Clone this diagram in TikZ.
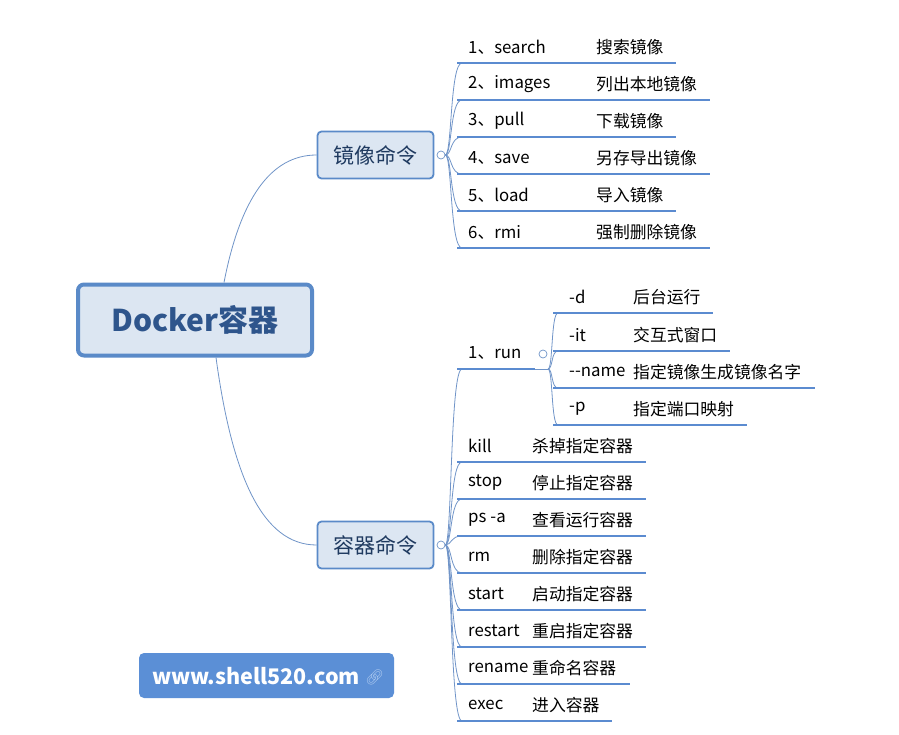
\documentclass[tikz,border=0pt]{standalone}
\usepackage{fontspec}
\setmainfont{Noto Sans CJK SC}
\newfontfamily\emo{Noto Emoji}
\definecolor{bfill}{HTML}{DCE6F2}
\definecolor{bline}{HTML}{5A8AC8}
\definecolor{maintext}{HTML}{2E558C}
\definecolor{subtext}{HTML}{1F3A60}
\definecolor{connc}{HTML}{7094C8}
\definecolor{ulc}{HTML}{5B8BD0}
\definecolor{wwwfill}{HTML}{5B8FD6}
\definecolor{iconc}{HTML}{A9C6EE}
\tikzset{
  mainbox/.style={draw=bline, fill=bfill, line width=4pt, rounded corners=6pt,
    minimum width=234pt, minimum height=71pt, text=maintext,
    font=\fontsize{30}{34}\selectfont\bfseries},
  subbox/.style={draw=bline, fill=bfill, line width=1.8pt, rounded corners=4pt,
    minimum width=116pt, minimum height=47pt, text=subtext,
    font=\fontsize{21}{24}\selectfont},
  itemtxt/.style={anchor=west, inner sep=0pt, text=black, font=\fontsize{16.8}{20}\selectfont},
  conn/.style={draw=connc, line width=0.8pt},
  uline/.style={draw=ulc, line width=2.8pt},
  knob/.style={circle, draw=connc, fill=white, line width=0.7pt, inner sep=0pt, minimum size=8pt},
}
\begin{document}
\begin{tikzpicture}[x=1pt,y=-1pt]
\useasboundingbox[fill=white] (0,0) rectangle (899,735);
% root and branches
\node[mainbox] (root) at (195,320) {Docker容器};
\node[subbox] (img) at (375.5,155) {镜像命令};
\node[subbox] (ctn) at (375.5,545) {容器命令};
\draw[conn] ([xshift=29pt]root.north) .. controls (240,200) and (270,155) .. (img.west);
\draw[conn] ([xshift=21pt]root.south) .. controls (232,475) and (262,545) .. (ctn.west);
\node[knob] (k1) at (441,155) {};
\node[knob] (k2) at (441,545) {};
% image commands
\foreach \i/\y/\a/\b/\e in {1/63/1、search/搜索镜像/676, 2/100/2、images/列出本地镜像/710,
   3/137/3、pull/下载镜像/676, 4/174/4、save/另存导出镜像/710,
   5/211/5、load/导入镜像/676, 6/248/6、rmi/强制删除镜像/710}{
  \coordinate (iu\i) at (457,\y);
  \coordinate (ie\i) at (\e,\y);
  \node[itemtxt] (ia\i) at (468,\y-16) {\a};
  \node[itemtxt] (ib\i) at (596,\y-16) {\b};
  \draw[conn] (k1.east) .. controls (452,155) and (450,\y) .. ([xshift=5pt]iu\i);
  \draw[uline] (iu\i) -- (ie\i);
}
% run
\coordinate (ru) at (457,369);
\coordinate (re) at (535,369);
\coordinate (rf) at (548,369);
\node[itemtxt] (runt) at (468,353) {1、run};
\node[knob] (k3) at (543,354) {};
\draw[conn] (k2.east) .. controls (452,545) and (450,369) .. ([xshift=5pt]ru);
\draw[uline] (ru) -- (re);
\draw[conn] (re) -- (rf);
\foreach \i/\y/\a/\b/\e in {1/313/-d/后台运行/713, 2/351/-it/交互式窗口/730,
   3/388/-{}-name/指定镜像生成镜像名字/815, 4/425/-p/指定端口映射/747}{
  \coordinate (su\i) at (553,\y);
  \coordinate (se\i) at (\e,\y);
  \node[itemtxt] (sa\i) at (569,\y-16) {\a};
  \node[itemtxt] (sb\i) at (633,\y-16) {\b};
  \draw[conn] (rf) .. controls (553,369) and (551,\y) .. ([xshift=5pt]su\i);
  \draw[uline] (su\i) -- (se\i);
}
% container commands
\foreach \i/\y/\a/\b/\e in {1/462/kill/杀掉指定容器/646, 2/499/stop/停止指定容器/646,
   3/536/ps\hspace{4pt}-a/查看运行容器/646, 4/573/rm/删除指定容器/646,
   5/610/start/启动指定容器/646, 6/647/restart/重启指定容器/646,
   7/684/rename/重命名容器/630, 8/721/exec/进入容器/612}{
  \coordinate (cu\i) at (457,\y);
  \coordinate (ce\i) at (\e,\y);
  \node[itemtxt] (ca\i) at (468,\y-16) {\a};
  \node[itemtxt] (cb\i) at (532,\y-16) {\b};
  \draw[conn] (k2.east) .. controls (452,545) and (450,\y) .. ([xshift=5pt]cu\i);
  \draw[uline] (cu\i) -- (ce\i);
}
% website badge
\node[fill=wwwfill, rounded corners=5pt, minimum width=255pt, minimum height=45pt] (www) at (266.5,675.5) {};
\node[anchor=west, inner sep=0pt, text=white, font=\fontsize{21.5}{24}\selectfont\bfseries] (wwwt) at (152,676) {www.shell520.com};
\node[anchor=west, inner sep=0pt, text=iconc, font=\fontsize{15}{17}\selectfont\emo] (icon) at (365,677) {🔗};
\end{tikzpicture}
\end{document}
